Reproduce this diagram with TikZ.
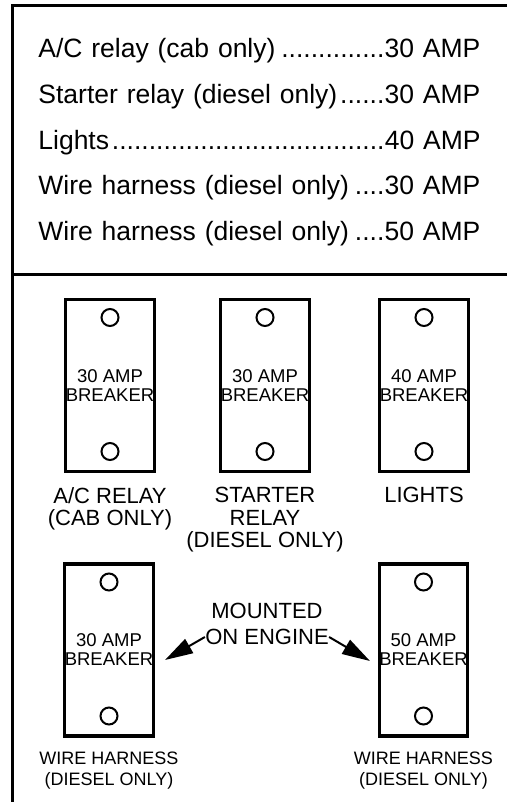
\documentclass[tikz,border=0pt]{standalone}
\usepackage{fontspec}
\setmainfont{Liberation Sans}
\usetikzlibrary{arrows.meta,positioning}
\newcommand{\ampdots}{\leaders\hbox{.}\hfill}
\tikzset{
  frame/.style={line width=1.5pt},
  row/.style={anchor=base west,inner sep=0pt,text width=221pt,font=\fontsize{13.25}{14}\selectfont},
  brk/.style={draw,line width=1.6pt,minimum width=42.5pt,minimum height=86pt,inner sep=0pt,
              align=center,font=\fontsize{9.25}{9.5}\selectfont},
  hole/.style={line width=1pt},
  lbl/.style={align=center,inner sep=0pt,font=\fontsize{11}{11.2}\selectfont},
  slbl/.style={align=center,inner sep=0pt,font=\fontsize{9}{10.5}\selectfont},
  arr/.style={-{Triangle[length=14pt,width=8pt]},line width=1pt},
}
\begin{document}
\begin{tikzpicture}[x=0.5pt,y=-0.5pt]
\fill[white] (0,0) rectangle (507,802);
\useasboundingbox (0,0) rectangle (507,802);
% panel frame
\draw[frame] (515,6) -- (12,6) -- (12,805);
\draw[frame] (12,274) -- (515,274);
% breaker list
\foreach \txt/\amp [count=\i from 0] in {{A/C relay (cab only)}/30,{Starter relay (diesel only)}/30,
  {Lights}/40,{Wire harness (diesel only)}/30,{Wire harness (diesel only)}/50}{
  \node[row] (row\i) at (38,{57.5+45.8*\i}) {\txt\ampdots\amp\ AMP};}
% breakers
\node[brk] (b1) at (110,385.5) {30 AMP\\BREAKER};
\node[brk] (b2) at (265,385.5) {30 AMP\\BREAKER};
\node[brk] (b3) at (424,385.5) {40 AMP\\BREAKER};
\node[brk] (b4) at (109,650) {30 AMP\\BREAKER};
\node[brk] (b5) at (423.5,650) {50 AMP\\BREAKER};
\foreach \b in {b1,b2,b3,b4,b5}{
  \draw[hole] ([yshift=34pt]\b.center) circle (4.25pt);
  \draw[hole] ([yshift=-33pt]\b.center) circle (4.25pt);}
\node[lbl,below=7pt of b1] (l1) {A/C RELAY\\(CAB ONLY)};
\node[lbl,below=7pt of b2] (l2) {STARTER\\RELAY\\(DIESEL ONLY)};
\node[lbl,below=7pt of b3] (l3) {LIGHTS};
\node[slbl,below=6.75pt of b4] (l4) {WIRE HARNESS\\(DIESEL ONLY)};
\node[slbl,below=6.75pt of b5] (l5) {WIRE HARNESS\\(DIESEL ONLY)};
% engine note
\node[lbl] (eng) at (267,637) {ON ENGINE};
\node[lbl,above=5pt of eng] (mnt) {MOUNTED};
\coordinate (tipL) at (165,660);
\coordinate (tipR) at (370,661);
\draw[arr] (eng.west) -- (tipL);
\draw[arr] (eng.east) -- (tipR);
\end{tikzpicture}
\end{document}
